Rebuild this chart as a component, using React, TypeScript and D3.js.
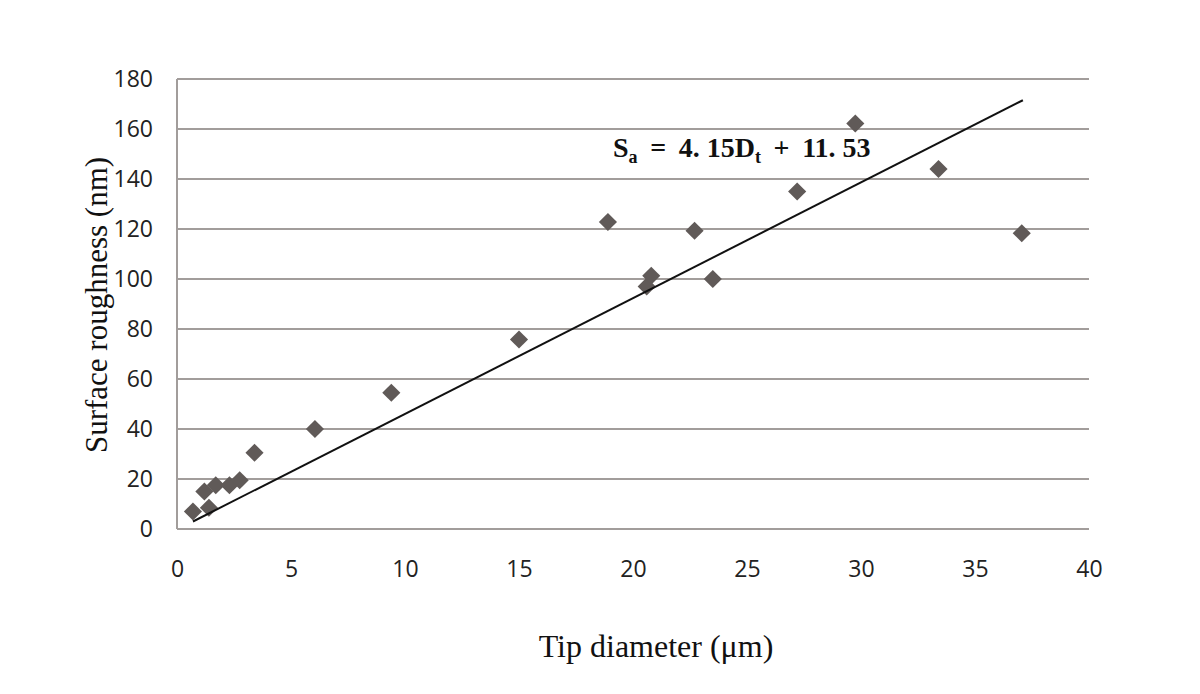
import React, { useRef, useEffect } from 'react';
import * as d3 from 'd3';

// tip diameter (µm) vs surface roughness (nm)
const tipDiameter = [0.7, 1.2, 1.4, 1.7, 2.3, 2.75, 3.4, 6.05, 9.4, 15.0, 18.9, 20.6, 20.8, 22.7, 23.5, 27.2, 29.75, 33.4, 37.05];
const roughness = [7, 15, 8.5, 17.5, 17.5, 19.5, 30.5, 40, 54.5, 75.8, 122.8, 97, 101.3, 119.3, 100, 135, 162.2, 144, 118.3];
const trendX = [0.7, 37.1];
const trendY = [3.0, 171.5];
const xTicks = [0, 5, 10, 15, 20, 25, 30, 35, 40];
const yTicks = [0, 20, 40, 60, 80, 100, 120, 140, 160, 180];

const App = () => {
    const ref = useRef<SVGSVGElement>(null);

    useEffect(() => {
        const svg = d3.select(ref.current);
        svg.selectAll("*").remove();

        const left = 177, right = 1089, top = 79, bottom = 529;
        const x = d3.scaleLinear().domain([0, 40]).range([left, right]);
        const y = d3.scaleLinear().domain([0, 180]).range([bottom, top]);

        const grid = "#a29d9b";

        // horizontal gridlines
        svg.append("g")
            .selectAll("line")
            .data(yTicks)
            .join("line")
            .attr("x1", left)
            .attr("x2", right)
            .attr("y1", d => y(d))
            .attr("y2", d => y(d))
            .attr("stroke", grid)
            .attr("stroke-width", 2);

        // left axis line
        svg.append("line")
            .attr("x1", left).attr("x2", left)
            .attr("y1", top).attr("y2", bottom)
            .attr("stroke", grid)
            .attr("stroke-width", 2);

        const yAxis = svg.append("g")
            .attr("transform", `translate(${left - 24}, 0)`)
            .call(d3.axisLeft(y).tickValues(yTicks).tickSize(0).tickPadding(0));
        yAxis.select(".domain").remove();
        yAxis.selectAll("text")
            .attr("font-family", "'Open Sans', sans-serif")
            .attr("font-size", 23)
            .attr("fill", "#222");

        const xAxis = svg.append("g")
            .attr("transform", `translate(0, ${bottom + 30})`)
            .call(d3.axisBottom(x).tickValues(xTicks).tickSize(0).tickPadding(0));
        xAxis.select(".domain").remove();
        xAxis.selectAll("text")
            .attr("font-family", "'Open Sans', sans-serif")
            .attr("font-size", 23)
            .attr("dy", "0.8em")
            .attr("fill", "#222");

        // markers
        const diamond = d3.symbol().type(d3.symbolDiamond2).size(210);
        svg.append("g")
            .selectAll("path")
            .data(tipDiameter.map((d, i) => [d, roughness[i]]))
            .join("path")
            .attr("d", diamond)
            .attr("transform", d => `translate(${x(d[0])}, ${y(d[1])})`)
            .attr("fill", "#605a58");

        // trendline
        const line = d3.line<number[]>()
            .x(d => x(d[0]))
            .y(d => y(d[1]));
        svg.append("path")
            .datum(trendX.map((d, i) => [d, trendY[i]]))
            .attr("fill", "none")
            .attr("stroke", "#111")
            .attr("stroke-width", 2)
            .attr("d", line);

        // equation
        const eq = svg.append("text")
            .attr("x", 613)
            .attr("y", 157)
            .attr("font-family", "'Liberation Serif', serif")
            .attr("font-weight", "bold")
            .attr("font-size", 28)
            .attr("fill", "#111");
        eq.append("tspan").text("S");
        eq.append("tspan").attr("font-size", 18).attr("dy", 6).text("a");
        eq.append("tspan").attr("dy", -6).text("\u2009 =\u2009 4. 15D");
        eq.append("tspan").attr("font-size", 18).attr("dy", 6).text("t");
        eq.append("tspan").attr("dy", -6).text("\u2009 +\u2009 11. 53");

        // axis titles
        svg.append("text")
            .attr("x", 656)
            .attr("y", 657)
            .attr("text-anchor", "middle")
            .attr("font-family", "'Liberation Serif', serif")
            .attr("font-size", 32)
            .attr("fill", "#111")
            .text("Tip diameter (μm)");

        svg.append("text")
            .attr("transform", `translate(107, 305) rotate(-90)`)
            .attr("text-anchor", "middle")
            .attr("font-family", "'Liberation Serif', serif")
            .attr("font-size", 31)
            .attr("fill", "#111")
            .text("Surface roughness (nm)");
    }, []);

    return (
        <svg ref={ref} width={1200} height={694}
            style={{ position: 'absolute', left: 0, top: 0, background: '#fff' }} />
    );
};

export default App;
